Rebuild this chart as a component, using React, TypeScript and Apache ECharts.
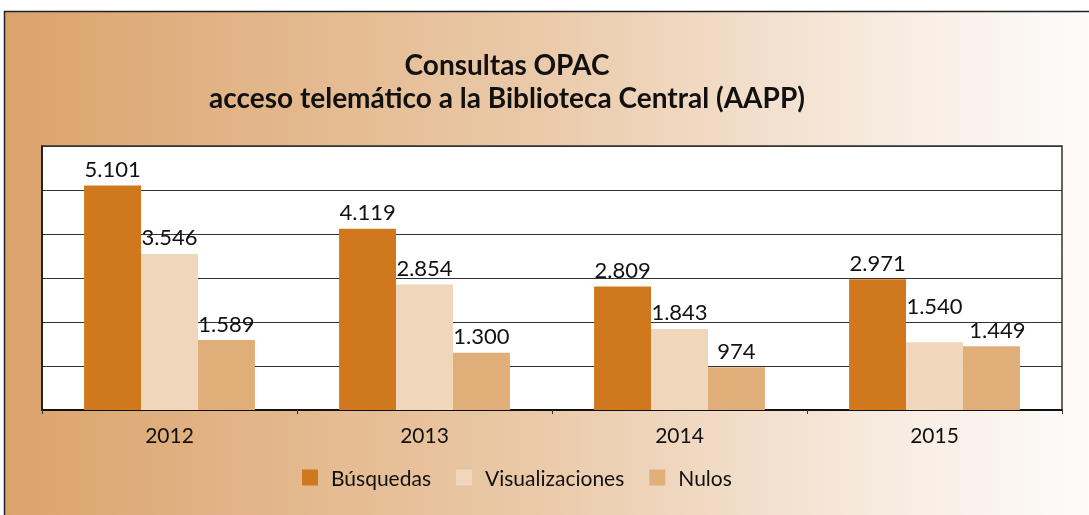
import React, { useEffect, useRef } from "react";
import * as echarts from "echarts";

const years = ["2012", "2013", "2014", "2015"];
const busquedas = [5101, 4119, 2809, 2971];
const visualizaciones = [3546, 2854, 1843, 1540];
const nulos = [1589, 1300, 974, 1449];
const seriesNames = ["Búsquedas", "Visualizaciones", "Nulos"];
const titleLines = ["Consultas OPAC", "acceso telemático a la Biblioteca Central (AAPP)"];

const colors = ["#D0781E", "#F0D7BC", "#E0AE78"];
const FONT = "Lato, 'Open Sans', sans-serif";

const fmt = (v: number) => v.toLocaleString("de-DE");

export default function App() {
  const ref = useRef<HTMLDivElement>(null);
  useEffect(() => {
    if (!ref.current) return;
    const chart = echarts.init(ref.current, null, { renderer: "svg" });
    const mk = (
      name: string,
      data: number[],
      color: string,
      raise: Record<number, number> = {},
      shift: Record<number, number> = {}
    ) => ({
      name,
      type: "bar",
      data: data.map((v, i) =>
        raise[i] !== undefined || shift[i] !== undefined
          ? { value: v, label: { offset: [shift[i] || 0, -(raise[i] || 0)] } }
          : v
      ),
      barGap: "0%",
      barCategoryGap: "33%",
      itemStyle: { color },
      label: {
        show: true,
        position: "top",
        distance: 6,
        formatter: (p: any) => fmt(p.value),
        fontFamily: FONT,
        fontSize: 22,
        color: "#111",
      },
    });
    chart.setOption({
      animation: false,
      textStyle: { fontFamily: FONT },
      graphic: [
        {
          type: "rect",
          z: -10,
          shape: { x: 4.5, y: 11.5, width: 1100, height: 520 },
          style: {
            fill: new echarts.graphic.LinearGradient(0, 0, 1, 0, [
              { offset: 0, color: "#DBA36C" },
              { offset: 0.5, color: "#EBCBAB" },
              { offset: 0.8, color: "#F7EBE0" },
              { offset: 1, color: "#FEFDFC" },
            ]),
            stroke: "#222",
            lineWidth: 1.5,
          },
        },
        {
          type: "text",
          x: 507,
          y: 64,
          style: {
            text: titleLines[0],
            font: `bold 28px ${FONT}`,
            fill: "#111",
            align: "center",
            verticalAlign: "middle",
          },
        },
        {
          type: "text",
          x: 507,
          y: 97,
          style: {
            text: titleLines[1],
            font: `bold 28px ${FONT}`,
            fill: "#111",
            align: "center",
            verticalAlign: "middle",
          },
        },
      ],
      legend: {
        data: seriesNames,
        left: 297,
        top: 462,
        itemWidth: 16,
        itemHeight: 16,
        itemGap: 25,
        icon: "rect",
        textStyle: {
          fontFamily: FONT,
          fontSize: 21,
          color: "#111",
          padding: [0, 0, 0, 8],
        },
      },
      grid: {
        left: 42,
        right: 27,
        top: 146,
        bottom: 105,
        show: true,
        backgroundColor: "#fff",
        borderColor: "#333",
        borderWidth: 1.5,
        containLabel: false,
      },
      xAxis: {
        type: "category",
        data: years,
        axisLine: { lineStyle: { color: "#111", width: 2 } },
        axisTick: { show: true, length: 4, lineStyle: { color: "#333" } },
        axisLabel: { fontFamily: FONT, fontSize: 21, color: "#111", margin: 14 },
      },
      yAxis: {
        type: "value",
        min: 0,
        max: 6000,
        interval: 1000,
        axisLabel: { show: false },
        axisLine: { show: true, lineStyle: { color: "#111", width: 1.5 } },
        axisTick: { show: false },
        splitLine: { lineStyle: { color: "#333", width: 1.2 } },
      },
      series: [
        mk(seriesNames[0], busquedas, colors[0]),
        mk(seriesNames[1], visualizaciones, colors[1], { 3: 20 }),
        mk(seriesNames[2], nulos, colors[2], {}, { 3: 6 }),
      ],
    });
    return () => chart.dispose();
  }, []);
  return (
    <div
      ref={ref}
      style={{ position: "fixed", left: 0, top: 0, width: 1089, height: 515 }}
    />
  );
}
